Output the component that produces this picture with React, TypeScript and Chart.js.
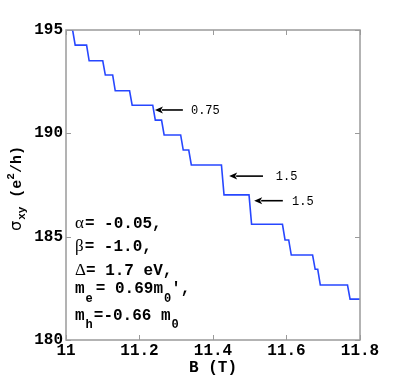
import React, { useEffect, useRef } from "react";
import { Chart, registerables } from "chart.js";

Chart.register(...registerables);

// Magnetic field positions where sigma_xy drops to the next plateau (T)
const stepB = [11.018, 11.056, 11.1, 11.127, 11.173, 11.236, 11.26, 11.312, 11.334, 11.423, 11.498, 11.589, 11.606, 11.671, 11.685, 11.766];
// Plateau values of sigma_xy (e^2/h), one more than the steps
const levels = [195.0, 194.27, 193.51, 192.82, 192.06, 191.36, 190.64, 189.92, 189.19, 188.47, 187.02, 185.6, 184.84, 184.11, 183.42, 182.66, 181.98];
const bStart = 11.0;
const bEnd = 11.8;
const dropWidth = 0.007;

// Arrow annotations
const arrowTipB = [11.242, 11.444, 11.512];
const arrowTailB = [11.318, 11.536, 11.59];
const arrowSigma = [191.13, 187.93, 186.74];
const arrowLabelB = [11.34, 11.571, 11.615];
const arrowLabels = ["0.75", "1.5", "1.5"];

const xTicks = [11, 11.2, 11.4, 11.6, 11.8];
const yTicks = [180, 185, 190, 195];

const MONO = "'Liberation Mono', 'DejaVu Sans Mono', monospace";
const SERIF = "'Liberation Serif', 'DejaVu Serif', serif";
const SANS = "'DejaVu Sans', sans-serif";

type Seg = { t: string; font: string; dy?: number; gap?: number };

function drawRich(ctx: CanvasRenderingContext2D, x: number, y: number, segs: Seg[]) {
  let cx = x;
  for (const s of segs) {
    cx += s.gap || 0;
    ctx.font = s.font;
    ctx.fillText(s.t, cx, y + (s.dy || 0));
    cx += ctx.measureText(s.t).width;
  }
}

const B16 = `bold 16px ${MONO}`;
const SUB = `bold 12px ${MONO}`;
const GR = `17px ${SERIF}`;

const textLines: { y: number; segs: Seg[] }[] = [
  { y: 228, segs: [{ t: "α", font: GR }, { t: "= -0.05,", font: B16, gap: 1 }] },
  { y: 251, segs: [{ t: "β", font: GR }, { t: "= -1.0,", font: B16, gap: 1 }] },
  { y: 275, segs: [{ t: "Δ", font: GR }, { t: "= 1.7 eV,", font: B16, gap: 0 }] },
  {
    y: 293,
    segs: [
      { t: "m", font: B16 },
      { t: "e", font: SUB, dy: 9, gap: 1 },
      { t: "= 0.69m", font: B16, gap: 3 },
      { t: "0", font: SUB, dy: 9, gap: 1 },
      { t: "',", font: B16 },
    ],
  },
  {
    y: 320,
    segs: [
      { t: "m", font: B16 },
      { t: "h", font: SUB, dy: 8, gap: 1 },
      { t: "=-0.66 m", font: B16, gap: 1 },
      { t: "0", font: SUB, dy: 8, gap: 1 },
    ],
  },
];

const overlayPlugin = {
  id: "overlay",
  afterDraw(chart: any) {
    const ctx: CanvasRenderingContext2D = chart.ctx;
    const { left, right, top, bottom } = chart.chartArea;
    const xs = chart.scales.x;
    const ys = chart.scales.y;
    ctx.save();
    // frame
    ctx.strokeStyle = "#9a9a9a";
    ctx.lineWidth = 1.5;
    ctx.strokeRect(left, top, right - left, bottom - top);
    // inward ticks
    ctx.lineWidth = 1;
    const tl = 5;
    ctx.beginPath();
    for (const v of xTicks) {
      const px = Math.round(xs.getPixelForValue(v)) + 0.5;
      ctx.moveTo(px, bottom);
      ctx.lineTo(px, bottom - tl);
      ctx.moveTo(px, top);
      ctx.lineTo(px, top + tl);
    }
    for (const v of yTicks) {
      const py = Math.round(ys.getPixelForValue(v)) + 0.5;
      ctx.moveTo(left, py);
      ctx.lineTo(left + tl, py);
      ctx.moveTo(right, py);
      ctx.lineTo(right - tl, py);
    }
    ctx.stroke();

    // arrows
    ctx.fillStyle = "#000";
    ctx.strokeStyle = "#000";
    ctx.lineWidth = 1.6;
    for (let i = 0; i < arrowTipB.length; i++) {
      const tipX = xs.getPixelForValue(arrowTipB[i]);
      const tailX = xs.getPixelForValue(arrowTailB[i]);
      const ay = ys.getPixelForValue(arrowSigma[i]);
      const hl = 8;
      const hw = 3.5;
      ctx.beginPath();
      ctx.moveTo(tailX, ay);
      ctx.lineTo(tipX + hl - 1, ay);
      ctx.stroke();
      ctx.beginPath();
      ctx.moveTo(tipX, ay);
      ctx.lineTo(tipX + hl, ay - hw);
      ctx.lineTo(tipX + hl - 2, ay);
      ctx.lineTo(tipX + hl, ay + hw);
      ctx.closePath();
      ctx.fill();
      ctx.font = `12px ${MONO}`;
      ctx.textBaseline = "middle";
      ctx.textAlign = "left";
      ctx.fillText(arrowLabels[i], xs.getPixelForValue(arrowLabelB[i]), ay + 1);
    }

    // parameter text block
    ctx.textBaseline = "alphabetic";
    ctx.textAlign = "left";
    for (const line of textLines) drawRich(ctx, 75, line.y, line.segs);

    // y axis title, rotated
    ctx.save();
    ctx.translate(21, 231);
    ctx.rotate(-Math.PI / 2);
    drawRich(ctx, 0, 0, [
      { t: "σ", font: `16px ${SANS}` },
      { t: "xy", font: `bold 11px ${MONO}`, dy: 4, gap: 1 },
      { t: " (e", font: `bold 15px ${MONO}` },
      { t: "2", font: `bold 11px ${MONO}`, dy: -7 },
      { t: "/h)", font: `bold 15px ${MONO}` },
    ]);
    ctx.restore();
    ctx.restore();
  },
};

export default function App() {
  const ref = useRef<HTMLCanvasElement | null>(null);
  useEffect(() => {
    if (!ref.current) return;
    const pts: { x: number; y: number }[] = [{ x: bStart, y: levels[0] }];
    for (let i = 0; i < stepB.length; i++) {
      pts.push({ x: stepB[i], y: levels[i] });
      pts.push({ x: stepB[i] + dropWidth, y: levels[i + 1] });
    }
    pts.push({ x: bEnd, y: levels[levels.length - 1] });

    const chart = new Chart(ref.current, {
      type: "line",
      data: {
        datasets: [
          {
            data: pts,
            borderColor: "#2747ff",
            borderWidth: 1.6,
            pointRadius: 0,
            tension: 0,
            fill: false,
          },
        ],
      },
      options: {
        animation: false,
        responsive: false,
        maintainAspectRatio: false,
        layout: { padding: { left: 0, top: 30, right: 39, bottom: 0 } },
        plugins: { legend: { display: false }, tooltip: { enabled: false } },
        scales: {
          x: {
            type: "linear",
            min: bStart,
            max: bEnd,
            afterBuildTicks: (s: any) => {
              s.ticks = xTicks.map((v) => ({ value: v }));
            },
            afterFit: (s: any) => {
              s.height = 43;
            },
            grid: { display: false, drawTicks: false },
            border: { display: false },
            ticks: {
              padding: 1,
              maxRotation: 0,
              autoSkip: false,
              color: "#000",
              font: { family: MONO, size: 16, weight: "bold" },
              callback: (v: any) => (Math.abs(Number(v) - 11) < 1e-9 ? "11" : Number(v).toFixed(1)),
            },
            title: {
              display: true,
              text: "B (T)",
              color: "#000",
              font: { family: MONO, size: 16, weight: "bold" },
              padding: { top: 0, bottom: 5 },
            },
          },
          y: {
            type: "linear",
            min: 180,
            max: 195,
            afterBuildTicks: (s: any) => {
              s.ticks = yTicks.map((v) => ({ value: v }));
            },
            afterFit: (s: any) => {
              s.width = 66;
            },
            grid: { display: false, drawTicks: false },
            border: { display: false },
            ticks: {
              padding: 3,
              autoSkip: false,
              color: "#000",
              font: { family: MONO, size: 16, weight: "bold" },
            },
          },
        },
      },
      plugins: [overlayPlugin],
    });
    return () => chart.destroy();
  }, []);

  return (
    <div style={{ position: "absolute", left: 0, top: 0, width: 399, height: 383, background: "#fff" }}>
      <canvas ref={ref} width={399} height={383} style={{ display: "block" }} />
    </div>
  );
}
